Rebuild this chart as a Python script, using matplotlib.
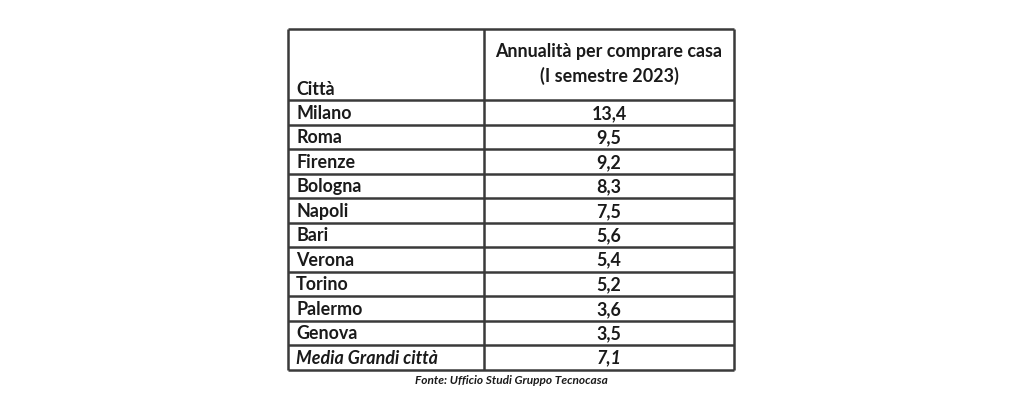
import matplotlib
matplotlib.use('Agg')
import matplotlib.pyplot as plt

# data
cities = ['Milano', 'Roma', 'Firenze', 'Bologna', 'Napoli', 'Bari',
          'Verona', 'Torino', 'Palermo', 'Genova']
years = ['13,4', '9,5', '9,2', '8,3', '7,5', '5,6', '5,4', '5,2', '3,6', '3,5']
avg_label = 'Media Grandi città'
avg_value = '7,1'
col_titles = ['Città', 'Annualità per comprare casa\n(I semestre 2023)']
source = 'Fonte: Ufficio Studi Gruppo Tecnocasa'

plt.rcParams['font.family'] = ['Lato', 'DejaVu Sans']

fig = plt.figure(figsize=(10.24, 4.12), dpi=100)
ax = fig.add_axes([0, 0, 1, 1])
ax.set_xlim(0, 1024)
ax.set_ylim(412, 0)
ax.axis('off')

x_left, x_mid, x_right = 288, 484, 734
y_top, y_head = 29, 100
row_h = 24.5
txt = '#1a1a1a'
lc = '#3a3a3a'
lw = 1.8
fs = 12.9

n_rows = len(cities) + 1
y_bottom = y_head + n_rows * row_h

# grid lines
ax.hlines([y_top, y_head], x_left, x_right, color=lc, lw=lw)
for i in range(1, n_rows + 1):
    ax.hlines(y_head + i * row_h, x_left, x_right, color=lc, lw=lw)
ax.vlines([x_left, x_mid, x_right], y_top, y_bottom, color=lc, lw=lw)

# header
ax.text(x_left + 8, y_head - 11, col_titles[0], fontsize=fs, fontweight='bold',
        color=txt, va='center', ha='left')
ax.text((x_mid + x_right) / 2, 64, col_titles[1], fontsize=fs, fontweight='bold',
        color=txt, va='center', ha='center', linespacing=1.45)

# rows
for i, (c, v) in enumerate(zip(cities, years)):
    yc = y_head + (i + 0.5) * row_h + 1
    ax.text(x_left + 8, yc, c, fontsize=fs, fontweight='bold', color=txt,
            va='center', ha='left')
    ax.text((x_mid + x_right) / 2, yc, v, fontsize=fs, fontweight='bold',
            color=txt, va='center', ha='center')

yc = y_head + (n_rows - 0.5) * row_h + 1
ax.text(x_left + 8, yc, avg_label, fontsize=fs, fontweight='bold',
        fontstyle='italic', color=txt, va='center', ha='left')
ax.text((x_mid + x_right) / 2, yc, avg_value, fontsize=fs, fontweight='bold',
        fontstyle='italic', color=txt, va='center', ha='center')

ax.text(511, y_bottom + 11, source, fontsize=8.6, fontweight='bold',
        fontstyle='italic', color=txt, va='center', ha='center')

fig.savefig('out.png', dpi=100, facecolor='white')
